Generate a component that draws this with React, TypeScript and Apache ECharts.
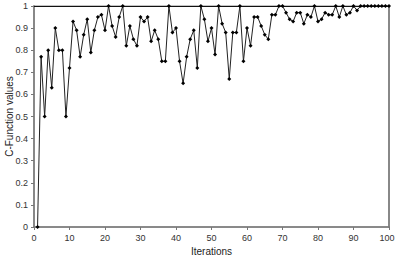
import React, { useEffect, useRef } from "react";
import * as echarts from "echarts";

const iterations: number[] = Array.from({ length: 100 }, (_, i) => i + 1);
const cValues: number[] = [
  0, 0.77, 0.5, 0.8, 0.63, 0.9, 0.8, 0.8, 0.5, 0.72,
  0.93, 0.89, 0.77, 0.87, 0.94, 0.79, 0.89, 0.95, 0.96, 0.89,
  1.0, 0.91, 0.86, 0.95, 1.0, 0.82, 0.91, 0.85, 0.82, 0.95,
  0.93, 0.95, 0.84, 0.89, 0.85, 0.75, 0.75, 1.0, 0.88, 0.9,
  0.75, 0.65, 0.77, 0.85, 0.89, 0.72, 1.0, 0.94, 0.84, 0.9,
  0.78, 1.0, 0.92, 0.88, 0.67, 0.88, 0.88, 1.0, 0.75, 0.9,
  0.82, 0.95, 0.95, 0.91, 0.87, 0.85, 0.96, 0.96, 1.0, 1.0,
  0.97, 0.94, 0.93, 0.97, 0.97, 0.92, 0.96, 0.95, 1.0, 0.93,
  0.94, 0.97, 0.96, 0.96, 1.0, 0.95, 1.0, 0.96, 0.97, 1.0,
  0.98, 1.0, 1.0, 1.0, 1.0, 1.0, 1.0, 1.0, 1.0, 1.0,
];
const xTitle = "Iterations";
const yTitle = "C-Function values";

export default function App() {
  const ref = useRef<HTMLDivElement>(null);
  useEffect(() => {
    if (!ref.current) return;
    const chart = echarts.init(ref.current, undefined, { renderer: "svg" });
    const font = { fontFamily: "Liberation Sans, Arial, sans-serif", fontSize: 9, color: "#333" };
    chart.setOption({
      animation: false,
      grid: {
        left: 34, right: 6, top: 6, bottom: 31,
        containLabel: false, outerBoundsMode: "none",
        show: true, borderColor: "#888", borderWidth: 1, backgroundColor: "transparent",
      },
      xAxis: [
        {
          type: "value", min: 0, max: 100, interval: 10,
          name: xTitle, nameLocation: "middle", nameGap: 19, nameMoveOverlap: false,
          nameTextStyle: { ...font, fontSize: 10, color: "#222" },
          axisLine: { show: true, onZero: false, lineStyle: { color: "#777", width: 1.5 } },
          axisTick: { show: true, length: 3, inside: false, lineStyle: { color: "#777" } },
          axisLabel: {
            ...font, margin: 6,
            formatter: (v: number) => (v === 100 ? "{r|100}" : String(v)),
            rich: { r: { ...font, padding: [0, 4, 0, 0] } },
          },
          splitLine: { show: false },
        },
        {
          type: "value", min: 0, max: 100, position: "top",
          axisLine: { show: true, onZero: false, lineStyle: { color: "#111", width: 1 } },
          axisTick: { show: false }, axisLabel: { show: false }, splitLine: { show: false },
        },
      ],
      yAxis: [
        {
          type: "value", min: 0, max: 1, interval: 0.1,
          name: yTitle, nameLocation: "middle", nameGap: 20, nameMoveOverlap: false,
          nameTextStyle: { ...font, fontSize: 10, color: "#222" },
          axisLine: { show: true, onZero: false, lineStyle: { color: "#888", width: 2 } },
          axisTick: { show: true, length: 3, lineStyle: { color: "#777" } },
          axisLabel: { ...font, margin: 6, formatter: (v: number) => String(Math.round(v * 10) / 10) },
          splitLine: { show: false },
        },
        {
          type: "value", min: 0, max: 1, position: "right",
          axisLine: { show: true, onZero: false, lineStyle: { color: "#888", width: 2 } },
          axisTick: { show: false }, axisLabel: { show: false }, splitLine: { show: false },
        },
      ],
      series: [
        {
          type: "line",
          data: iterations.map((x, i) => [x, cValues[i]]),
          symbol: "diamond",
          symbolSize: 4,
          lineStyle: { color: "#222", width: 1 },
          itemStyle: { color: "#000" },
        },
      ],
    });
    return () => chart.dispose();
  }, []);
  return <div ref={ref} style={{ width: 395, height: 258, position: "absolute", left: 0, top: 0 }} />;
}
